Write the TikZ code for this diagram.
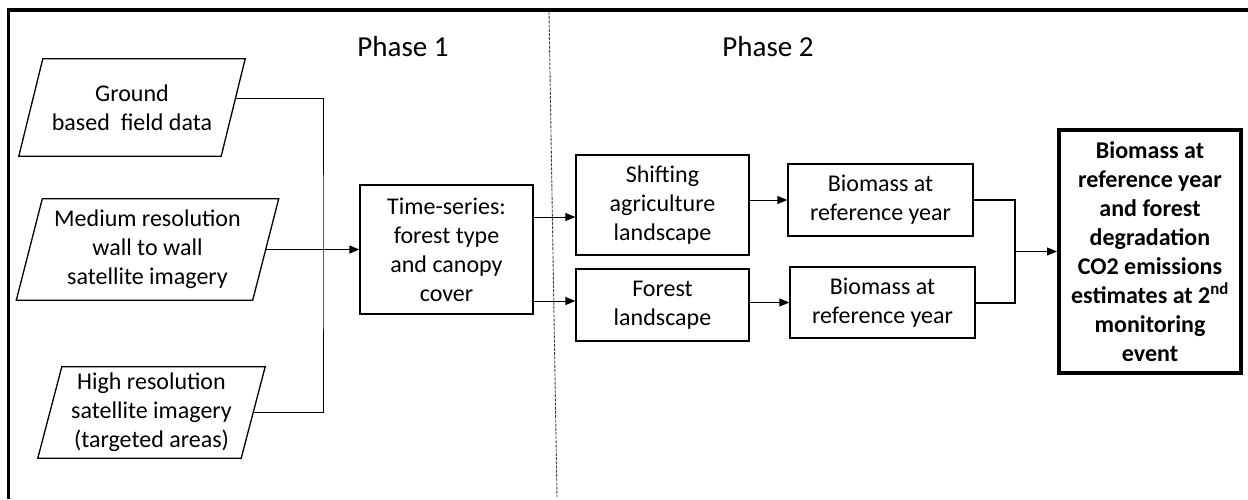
\documentclass[tikz,border=0pt]{standalone}
\usepackage{fontspec}
\setmainfont{Carlito}
\usetikzlibrary{arrows.meta}
\begin{document}
\begin{tikzpicture}[x=1pt,y=-1pt,
  txt/.style={font=\fontsize{24}{29}\selectfont, align=center, inner sep=0pt},
  box/.style={txt, draw, line width=1.3pt},
  paratext/.style={txt, minimum height=#1},
  paraline/.style={line width=1.3pt, line join=miter},
  conn/.style={line width=1pt},
  arr/.style={conn, -{Triangle[length=10pt,width=8pt]}},
  bracket/.style={line width=2pt},
  phase/.style={font=\fontsize{29}{34}\selectfont, inner sep=0pt},
]
\useasboundingbox (0,0) rectangle (1248,499);
% outer frame
\draw[line width=3.5pt] (8.5,499) -- (8.5,10) -- (1248,10);
% phase separator
\draw[line width=0.9pt, dash pattern=on 3pt off 1.2pt, black!75] (549,12) -- (557,497);
% phase titles
\node[phase] (p1) at (403,47) {Phase 1};
\node[phase] (p2) at (768,47) {Phase 2};

% input parallelograms (text nodes + outlines)
\node[paratext=97pt, minimum width=202pt] (g) at (132,107.5) {Ground\\based~ field data};
\draw[paraline] ([xshift=-12pt]g.south west) -- ([xshift=12pt]g.north west) -- ([xshift=12pt]g.north east) -- ([xshift=-12pt]g.south east) -- cycle;

\node[paratext=101pt, minimum width=236pt] (m) at (147.5,249.5) {Medium resolution\\wall to wall\\satellite imagery};
\draw[paraline] ([xshift=-13pt]m.south west) -- ([xshift=13pt]m.north west) -- ([xshift=13pt]m.north east) -- ([xshift=-13pt]m.south east) -- cycle;

\node[paratext=91pt, minimum width=203pt] (h) at (151.5,412.5) {High resolution\\satellite imagery\\(targeted areas)};
\draw[paraline] ([xshift=-12pt]h.south west) -- ([xshift=12pt]h.north west) -- ([xshift=12pt]h.north east) -- ([xshift=-12pt]h.south east) -- cycle;

% process boxes
\node[box, minimum width=173pt, minimum height=129pt] (t) at (446.5,249.5) {Time-series:\\forest type\\and canopy\\cover};
\node[box, minimum width=173pt, minimum height=100pt] (s) at (662.5,205) {Shifting\\agriculture\\landscape};
\node[box, minimum width=173pt, minimum height=72pt] (f) at (662.5,305) {Forest\\landscape};
\node[box, minimum width=185pt, minimum height=72pt] (b1) at (880.5,200) {Biomass at\\reference year};
\node[box, minimum width=185pt, minimum height=71pt] (b2) at (882.5,302.5) {Biomass at\\reference year};
\node[box, line width=4pt, minimum width=182pt, minimum height=243pt, font=\fontsize{24}{29}\selectfont\bfseries] (fin) at (1150,251.5) {Biomass at\\reference year\\and forest\\degradation\\CO2 emissions\\estimates at 2\textsuperscript{nd}\\monitoring\\event};

% connectors phase 1
\coordinate (j) at (323,249);
\draw[conn] ([xshift=2.4pt,yshift=9.5pt]g.east) -| (j) |- (h.east);
\draw[arr] (m.east) -- (t.west);
% phase 2
\draw[arr] (t.east |- 0,217) -- (s.west |- 0,217);
\draw[arr] (t.east |- 0,301) -- (f.west |- 0,301);
\draw[arr] (s.east |- b1.west) -- (b1.west);
\draw[arr] (f.east |- b2.west) -- (b2.west);
\coordinate (k) at (1015,251.5);
\draw[bracket] (b1.east) -| (k) |- (b2.east);
\draw[arr] (k) -- (fin.west);
\end{tikzpicture}
\end{document}
